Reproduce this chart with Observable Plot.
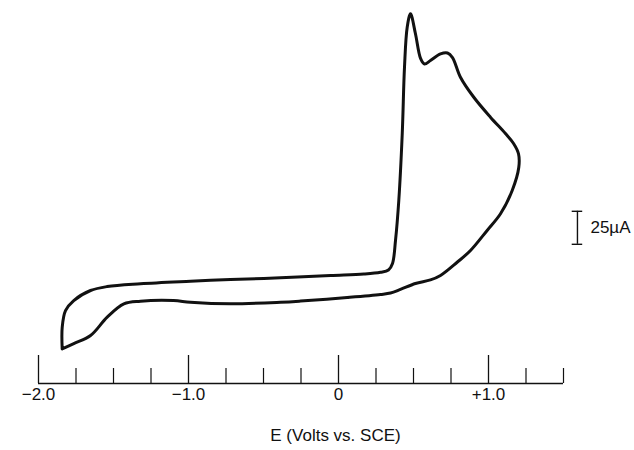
<!DOCTYPE html>
<html>
<head>
<meta charset="utf-8">
<script src="https://cdn.jsdelivr.net/npm/d3@7"></script>
<script src="https://cdn.jsdelivr.net/npm/@observablehq/plot@0.6"></script>
<style>
  html, body { margin: 0; padding: 0; background: white; }
  #chart { width: 634px; height: 450px; }
</style>
</head>
<body>
<div id="chart"></div>
<script>
// Potential (V vs. SCE), traced around the voltammogram loop (starting at the cathodic corner)
const potential = [
  -1.842, -1.842, -1.820, -1.765, -1.653, -1.542, -1.320, -0.987, -0.720, -0.387,
  -0.053, 0.169, 0.280, 0.333, 0.360, 0.380, 0.402, 0.425, 0.440, 0.458,
  0.480, 0.513, 0.547, 0.573, 0.613, 0.680, 0.727, 0.760, 0.813, 0.902,
  1.013, 1.113, 1.167, 1.200, 1.202, 1.158, 1.080, 0.991, 0.880, 0.791,
  0.680, 0.613, 0.513, 0.413, 0.347, 0.280, 0.058, -0.253, -0.387, -0.720,
  -0.987, -1.100, -1.320, -1.431, -1.542, -1.653, -1.765, -1.842
];
// Current (µA, arbitrary zero)
const current = [
  -44.3, -28.0, -15.2, -7.6, 0.0, 3.0, 5.1, 7.0, 8.3, 9.6,
  11.4, 12.5, 13.8, 15.5, 20.5, 37.9, 68.2, 118.9, 169.2, 199.5,
  209.6, 194.5, 175.8, 171.6, 174.2, 179.2, 179.9, 176.5, 161.6, 146.4,
  131.3, 118.9, 111.4, 103.6, 93.4, 75.8, 58.1, 45.5, 30.3, 21.4,
  11.4, 8.0, 5.3, 0.8, -1.9, -3.0, -5.3, -8.0, -8.9, -10.1,
  -8.9, -7.6, -8.1, -10.1, -20.2, -34.1, -40.2, -44.3
];

const xDomain = [-2.0, 1.5];
const yDomain = [-70.45, 219.7];
const majorTicks = [-2.0, -1.0, 0, 1.0];
const minorTicks = [-1.75, -1.5, -1.25, -0.75, -0.5, -0.25, 0.25, 0.5, 0.75, 1.25, 1.5];
const tickLabels = ["\u22122.0", "\u22121.0", "0", "+1.0"];
const xTitle = "E (Volts vs. SCE)";
const scaleBarX = 1.593;
const scaleBarCurrent = [35, 60];   // 25 µA
const scaleBarLabel = "25\u00B5A";

const data = potential.map((e, i) => ({E: e, I: current[i]}));
const font = "'Liberation Sans', Arial, Helvetica, sans-serif";

const chart = Plot.plot({
  width: 634,
  height: 450,
  marginTop: 0,
  marginLeft: 38,
  marginRight: 71,
  marginBottom: 67,
  style: {fontFamily: font, fontSize: "17px", color: "#111", background: "white", overflow: "visible"},
  x: {domain: xDomain},
  y: {domain: yDomain, axis: null},
  marks: [
    Plot.ruleY([yDomain[0]], {x1: xDomain[0], x2: xDomain[1], stroke: "#111", strokeWidth: 1.6}),
    Plot.ruleX(majorTicks, {stroke: "#111", strokeWidth: 1.3, insetTop: 383 - 28}),
    Plot.ruleX(minorTicks, {stroke: "#111", strokeWidth: 1.2, insetTop: 383 - 15}),
    Plot.axisX(majorTicks, {
      tickSize: 0, tickPadding: 4, label: null,
      tickFormat: (d) => tickLabels[majorTicks.indexOf(d)],
      fontSize: 17, fill: "#111"
    }),
    Plot.text([xTitle], {x: [0], frameAnchor: "bottom", dy: 57, dx: -3, text: (d) => d, fontSize: 17, fill: "#111"}),
    Plot.line(data, {x: "E", y: "I", curve: "catmull-rom", stroke: "#111", strokeWidth: 3, strokeLinejoin: "round"}),
    Plot.ruleX([scaleBarX], {y1: scaleBarCurrent[0], y2: scaleBarCurrent[1], stroke: "#111", strokeWidth: 1.4}),
    Plot.ruleY(scaleBarCurrent, {x1: scaleBarX - 0.035, x2: scaleBarX + 0.035, stroke: "#111", strokeWidth: 1.4}),
    Plot.text([scaleBarLabel], {x: scaleBarX, y: (scaleBarCurrent[0] + scaleBarCurrent[1]) / 2, text: (d) => d, textAnchor: "start", dx: 13, fontSize: 17, fill: "#111"})
  ]
});
document.getElementById("chart").append(chart);
</script>
</body>
</html>
